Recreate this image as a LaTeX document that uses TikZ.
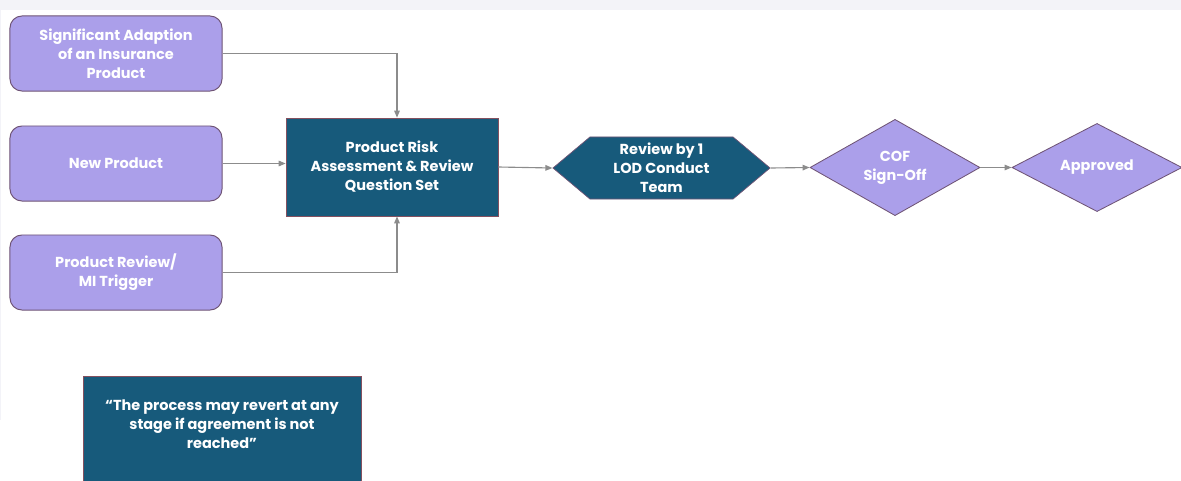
\documentclass[tikz,border=0pt]{standalone}
\usepackage{fontspec}
\setmainfont{Poppins}
\usetikzlibrary{shapes.geometric,shapes.symbols,arrows.meta}

\definecolor{lavender}{HTML}{AB9FEA}
\definecolor{lavedge}{HTML}{6F5475}
\definecolor{deepteal}{HTML}{175A7B}
\definecolor{tealedge}{HTML}{84505F}
\definecolor{linegrey}{HTML}{8C8C8C}
\definecolor{stripgrey}{HTML}{F3F3F8}

\tikzset{
  boxtext/.style={text=white, font=\bfseries\fontsize{10.3}{13.5}\selectfont, align=center, inner sep=0pt},
  trigger/.style={boxtext, draw=lavedge, line width=0.7pt, fill=lavender, rounded corners=0.3cm,
    minimum width=5.3cm, minimum height=1.875cm},
  assessbox/.style={boxtext, draw=tealedge, line width=0.5pt, fill=deepteal,
    minimum width=5.3cm, minimum height=2.45cm},
  hexbox/.style={boxtext, shape=signal, signal to=west and east, signal pointer angle=80,
    draw=lavedge, line width=0.5pt, fill=deepteal, minimum width=5.425cm, minimum height=1.55cm},
  decision/.style={boxtext, shape=diamond, draw=lavedge, line width=0.6pt, fill=lavender,
    minimum width=4.25cm, minimum height=2.125cm},
  flow/.style={draw=linegrey, line width=0.8pt, -{Triangle[length=5pt,width=4pt]}}
}

\begin{document}
\begin{tikzpicture}[x=0.025cm, y=-0.025cm]
        \useasboundingbox (0,0) rectangle (1181,480);
        % Page strips
        \fill[stripgrey] (0,0) rectangle (1181,10);
        \fill[stripgrey] (0,10) rectangle (1.5,420);

        % Triggers
        \node[trigger] (adapt) at (116,53.5) {Significant Adaption\\of an Insurance\\Product};
        \node[trigger] (newprod) at (116,163.5) {New Product};
        \node[trigger] (mireview) at (116,272.5) {Product Review/\\MI Trigger};

        % Process steps
        \node[assessbox] (assess) at (392,167) {Product Risk\\Assessment \& Review\\Question Set};
        \node[hexbox] (lod) at (661.5,168) {Review by 1\\LOD Conduct\\Team};
        \node[decision] (cof) at (895,167.5) {COF\\Sign-Off};
        \node[decision] (approved) at (1097,167.5) {Approved};

        % Note
        \fill[deepteal, draw=tealedge, line width=0.5pt] (83,376) rectangle (361,495);
        \node[boxtext] (note) at (222,424) {“The process may revert at any\\stage if agreement is not\\reached”};

        % Connectors
        \draw[flow] (adapt.east) -| ([xshift=0.125cm]assess.north);
        \draw[flow] (newprod.east) -- (newprod.east -| assess.west);
        \draw[flow] (mireview.east) -| ([xshift=0.125cm]assess.south);
        \draw[flow] (assess.east) -- (lod.west);
        \draw[flow] (lod.east) -- (cof.west);
        \draw[flow] (cof.east) -- (approved.west);

    \end{tikzpicture}
\end{document}
